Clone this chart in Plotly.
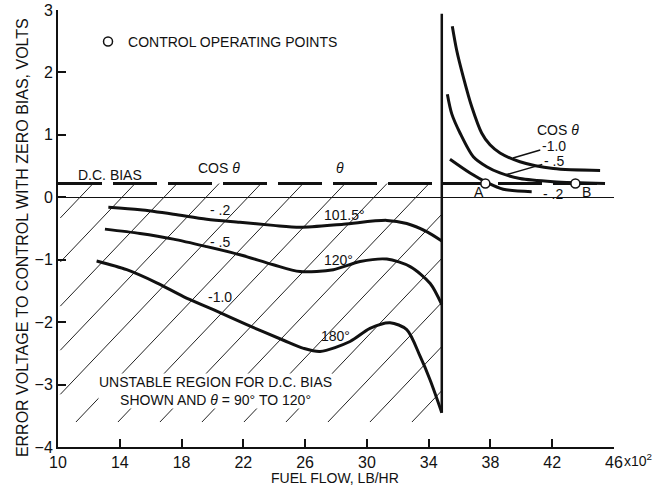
import numpy as np
import plotly.graph_objects as go

# ---------------- data ----------------
x_tick_vals = [10, 14, 18, 22, 26, 30, 34, 38, 42, 46]
y_tick_vals = [-4, -3, -2, -1, 0, 1, 2, 3]

# left family (theta curves, cos theta = -.2, -.5, -1.0)
left_m02_flow = [13.26, 15.31, 17.47, 19.63, 21.78, 23.94, 25.67, 28.48, 31.29, 32.58, 33.87, 34.85]
left_m02_err = [-0.16, -0.20, -0.27, -0.35, -0.40, -0.45, -0.48, -0.43, -0.37, -0.42, -0.55, -0.70]

left_m05_flow = [13.04, 15.31, 17.47, 19.63, 21.78, 23.94, 25.67, 27.83, 29.56, 31.29, 32.8, 34.1, 34.85]
left_m05_err = [-0.51, -0.58, -0.67, -0.79, -0.92, -1.08, -1.19, -1.16, -1.03, -0.99, -1.11, -1.38, -1.72]

left_m10_flow = [12.5, 14.45, 16.39, 18.12, 20.06, 22.22, 24.6, 25.9, 26.97, 28.91, 30.2, 31.5, 32.58, 33.45, 34.1, 34.85]
left_m10_err = [-1.02, -1.16, -1.37, -1.59, -1.80, -2.04, -2.29, -2.42, -2.47, -2.31, -2.10, -2.01, -2.12, -2.55, -2.93, -3.45]

# right family
right_m10_flow = [35.53, 35.81, 36.24, 36.79, 37.43, 37.97, 38.62, 39.91, 42.07, 45.1]
right_m10_err = [2.74, 2.36, 1.93, 1.45, 1.03, 0.84, 0.71, 0.57, 0.46, 0.43]

right_m05_flow = [35.21, 35.49, 36.03, 36.89, 37.76, 38.62, 39.91, 42.07, 45.42]
right_m05_err = [1.65, 1.34, 1.03, 0.65, 0.49, 0.39, 0.30, 0.25, 0.22]

right_m02_flow = [35.38, 36.68, 37.76, 38.83, 40.67]
right_m02_err = [0.61, 0.39, 0.24, 0.13, 0.09]

# stability boundary and D.C. bias
boundary_flow = [34.85, 34.85]
boundary_err = [-3.45, 2.94]
bias_flow = [10.0, 45.45]
bias_err = [0.22, 0.22]

# control operating points
op_flow = [37.67, 43.5]
op_err = [0.22, 0.22]

# hatched (unstable) region bounds
hatch_x = [10.15, 34.85]
hatch_y = [-3.6, 0.22]

# ---------------- layout geometry ----------------
W, H = 664, 490
ML, MR, MT, MB = 58, 50, 10, 43
XR = [10, 46]
YR = [-4, 3]
PW, PH = W - ML - MR, H - MT - MB
kx = PW / (XR[1] - XR[0])
ky = PH / (YR[1] - YR[0])

FONT = "Liberation Sans, Arial, sans-serif"
BLACK = "#111111"

fig = go.Figure()

# hatching lines (computed in pixel-consistent slope)
slope_px = 1.05
s = slope_px * kx / ky
spacing = 42 / kx
first_top = 12.27
xs, ys = [], []
drop = (hatch_y[1] - hatch_y[0]) / s
k = -10
while True:
    xc = first_top + k * spacing
    x0, y0 = xc - drop, hatch_y[0]
    x1, y1 = xc, hatch_y[1]
    if x0 > hatch_x[1]:
        break
    a0, a1 = max(x0, hatch_x[0]), min(x1, hatch_x[1])
    if a1 > a0:
        xs += [a0, a1, None]
        ys += [y0 + s * (a0 - x0), y0 + s * (a1 - x0), None]
    k += 1
fig.add_trace(go.Scatter(x=xs, y=ys, mode="lines", line=dict(color="#222222", width=1),
                         hoverinfo="skip", showlegend=False))

# D.C. bias dashed line
fig.add_trace(go.Scatter(x=bias_flow, y=bias_err, mode="lines",
                         line=dict(color=BLACK, width=3, dash="44px,11px"),
                         showlegend=False))

# boundary
fig.add_trace(go.Scatter(x=boundary_flow, y=boundary_err, mode="lines",
                         line=dict(color=BLACK, width=2.5), showlegend=False))

curve_line = dict(color=BLACK, width=3, shape="spline", smoothing=0.8)
for fx, fy in [(left_m02_flow, left_m02_err), (left_m05_flow, left_m05_err),
               (left_m10_flow, left_m10_err), (right_m10_flow, right_m10_err),
               (right_m05_flow, right_m05_err), (right_m02_flow, right_m02_err)]:
    fig.add_trace(go.Scatter(x=fx, y=fy, mode="lines", line=curve_line, showlegend=False))

# operating points
fig.add_trace(go.Scatter(x=op_flow, y=op_err, mode="markers", name="CONTROL OPERATING POINTS",
                         marker=dict(symbol="circle", size=9, color="white",
                                     line=dict(color=BLACK, width=1.5)),
                         showlegend=True))

def ann(x, y, text, size=14, **kw):
    d = dict(x=x, y=y, text=text, showarrow=False, font=dict(family=FONT, size=size, color=BLACK))
    d.update(kw)
    fig.add_annotation(**d)

ann(13.37, 0.36, "D.C. BIAS")
ann(20.42, 0.47, "COS <i>θ</i>")
ann(28.26, 0.47, "<i>θ</i>")
ann(20.49, -0.21, "- .2")
ann(20.49, -0.71, "- .5")
ann(20.49, -1.60, "-1.0")
ann(28.58, -0.28, "101.5°")
ann(28.19, -1.00, "120°")
ann(27.94, -2.22, "180°")

ann(42.37, 1.08, "COS <i>θ</i>")
fig.add_annotation(x=39.46, y=0.63, ax=42.1, ay=0.82, axref="x", ayref="y", text="-1.0",
                   showarrow=True, arrowhead=0, arrowwidth=1.5, arrowcolor=BLACK,
                   font=dict(family=FONT, size=14, color=BLACK))
fig.add_annotation(x=39.0, y=0.36, ax=42.1, ay=0.58, axref="x", ayref="y", text="- .5",
                   showarrow=True, arrowhead=0, arrowwidth=1.5, arrowcolor=BLACK,
                   font=dict(family=FONT, size=14, color=BLACK))
ann(37.26, 0.08, "A")
ann(42.05, 0.05, "- .2")
ann(44.19, 0.08, "B")

ann(20.2, -3.10, "UNSTABLE REGION FOR D.C. BIAS<br>SHOWN AND <i>θ</i> = 90° TO 120°", size=14,
    bgcolor="white", borderpad=0)

ann(46, -4, "x10<sup>2</sup>", size=14, xanchor="left", yanchor="top", xshift=8, yshift=-2)

# axis titles
ann(0.5 * ((335 - ML) / PW * 2), -31 / PH, "FUEL FLOW, LB/HR",
    xref="paper", yref="paper", xanchor="center", yanchor="middle")
ann(-36 / PW, 0.478, "ERROR VOLTAGE TO CONTROL WITH ZERO BIAS, VOLTS", size=16,
    xref="paper", yref="paper", textangle=-90, xanchor="center", yanchor="middle")

fig.update_layout(
    width=W, height=H,
    margin=dict(l=ML, r=MR, t=MT, b=MB, pad=0),
    paper_bgcolor="white", plot_bgcolor="white",
    font=dict(family=FONT, size=16, color=BLACK),
    legend=dict(x=0.054, y=0.927, xanchor="left", yanchor="middle", bgcolor="rgba(0,0,0,0)",
                font=dict(family=FONT, size=14, color=BLACK), itemwidth=30),
    xaxis=dict(range=XR, tickvals=x_tick_vals, ticks="inside", ticklen=8, tickwidth=1.5,
               tickcolor=BLACK, showline=True, linecolor=BLACK, linewidth=2, showgrid=False,
               zeroline=False, tickfont=dict(size=16), automargin=False),
    yaxis=dict(range=YR, tickvals=y_tick_vals, ticks="inside", ticklen=8, tickwidth=1.5,
               tickcolor=BLACK, showline=True, linecolor=BLACK, linewidth=2, showgrid=False,
               zeroline=True, zerolinecolor=BLACK, zerolinewidth=1, tickfont=dict(size=16),
               automargin=False),
)

fig.write_html("out.html", config={"displayModeBar": False},
               post_script="document.body.style.margin='0px';")
